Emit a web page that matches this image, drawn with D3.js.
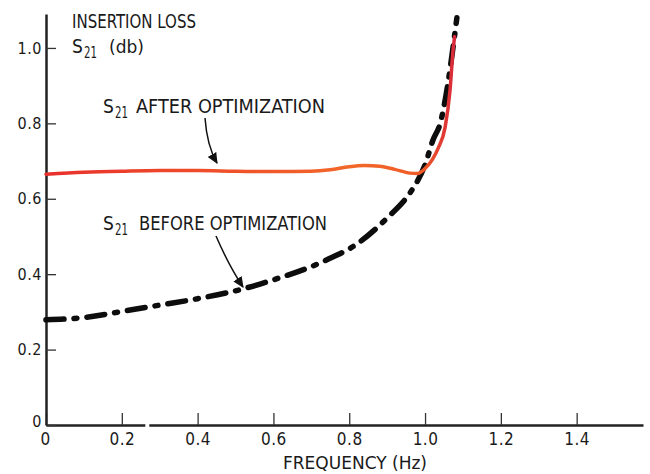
<!DOCTYPE html>
<html><head><meta charset="utf-8">
<script src="https://cdn.jsdelivr.net/npm/d3@7"></script>
<style>
html,body{margin:0;padding:0;background:#fff;}
svg{display:block;}
text{font-family:"DejaVu Sans Condensed","DejaVu Sans",sans-serif;fill:#1a1a1a;}
</style></head>
<body>
<svg id="chart" width="650" height="474"></svg>
<script>
// ---- data ----
const xTicks = [0, 0.2, 0.4, 0.6, 0.8, 1.0, 1.2, 1.4];
const xTickLabels = ["0", "0.2", "0.4", "0.6", "0.8", "1.0", "1.2", "1.4"];
const yTicks = [0, 0.2, 0.4, 0.6, 0.8, 1.0];
const yTickLabels = ["0", "0.2", "0.4", "0.6", "0.8", "1.0"];

const afterFreq = [0, 0.1, 0.2, 0.3, 0.4, 0.5, 0.6, 0.7, 0.75, 0.8, 0.84, 0.88, 0.92, 0.96, 0.98, 1.0, 1.02, 1.035, 1.053, 1.066, 1.074, 1.078];
const afterS21  = [0.665, 0.670, 0.673, 0.675, 0.675, 0.673, 0.672, 0.673, 0.677, 0.685, 0.688, 0.686, 0.678, 0.668, 0.667, 0.680, 0.705, 0.735, 0.79, 0.889, 0.995, 1.03];

const beforeFreq = [0, 0.1, 0.222, 0.3, 0.4, 0.52, 0.6, 0.741, 0.82, 0.9, 0.96, 0.979, 1.0, 1.021, 1.04, 1.061, 1.074, 1.084];
const beforeS21  = [0.279, 0.285, 0.305, 0.318, 0.335, 0.361, 0.385, 0.438, 0.48, 0.549, 0.615, 0.645, 0.69, 0.756, 0.80, 0.91, 1.003, 1.08];

// ---- scales ----
const svg = d3.select("#chart");
const x = d3.scaleLinear().domain([0, 1.575]).range([46, 643]);
const y = d3.scaleLinear().domain([0, 1.09]).range([425, 14]);

const defs = svg.append("defs");
const grad = defs.append("linearGradient").attr("id", "redgrad")
  .attr("gradientUnits", "userSpaceOnUse")
  .attr("x1", x(0)).attr("x2", x(1.08)).attr("y1", 0).attr("y2", 0);
[[0, "#e8302c"], [0.35, "#ee4a2a"], [0.75, "#f2682a"], [0.92, "#f05a28"], [1, "#d8283a"]]
  .forEach(([o, c]) => grad.append("stop").attr("offset", o).attr("stop-color", c));

defs.append("marker").attr("id", "arrow").attr("viewBox", "0 0 10 10")
  .attr("refX", 9).attr("refY", 5).attr("markerWidth", 11).attr("markerHeight", 11)
  .attr("markerUnits", "userSpaceOnUse").attr("orient", "auto")
  .append("path").attr("d", "M0,0.5 L10,5 L0,9.5 Z").attr("fill", "#111");

// ---- axes ----
const xAxis = d3.axisBottom(x).tickValues(xTicks)
  .tickFormat((d, i) => xTickLabels[i]).tickSizeInner(-12).tickSizeOuter(0).tickPadding(8);
const gx = svg.append("g").attr("transform", `translate(0,${y(0)})`).call(xAxis);
gx.select(".domain").attr("stroke", "#222").attr("stroke-width", 2.5);
gx.selectAll(".tick line").attr("stroke", "#333").attr("stroke-width", 1.3);
gx.selectAll(".tick text").attr("font-size", 17).attr("letter-spacing", 0.5).attr("fill", "#1a1a1a");
svg.append("rect").attr("x", x(0.262)).attr("y", y(0) - 2).attr("width", 4).attr("height", 4).attr("fill", "#fff");

const yAxis = d3.axisLeft(y).tickValues(yTicks)
  .tickFormat((d, i) => yTickLabels[i]).tickSizeInner(-10).tickSizeOuter(0).tickPadding(4);
const gy = svg.append("g").attr("transform", `translate(${x(0)},0)`).call(yAxis);
gy.select(".domain").attr("stroke", "#222").attr("stroke-width", 2.5);
gy.selectAll(".tick line").attr("stroke", "#333").attr("stroke-width", 1.3);
gy.selectAll(".tick text").attr("font-size", 16).attr("letter-spacing", 0.5).attr("fill", "#1a1a1a");
gy.selectAll(".tick").filter(d => d === 0).select("text").attr("dy", "0.1em");
gx.selectAll(".tick").filter(d => d === 0).select("text").attr("dx", "-0.05em");
svg.selectAll("g").attr("font-family", null);

// ---- curves ----
const line = d3.line().x(d => x(d[0])).y(d => y(d[1])).curve(d3.curveMonotoneX);

svg.append("path")
  .datum(beforeFreq.map((f, i) => [f, beforeS21[i]]))
  .attr("d", line).attr("fill", "none").attr("stroke", "#0d0d0d")
  .attr("stroke-width", 5.5).attr("stroke-linecap", "round")
  .attr("stroke-dasharray", "18,10,3,10");

svg.append("path")
  .datum(afterFreq.map((f, i) => [f, afterS21[i]]))
  .attr("d", line).attr("fill", "none").attr("stroke", "url(#redgrad)")
  .attr("stroke-width", 3.5).attr("stroke-linecap", "round");

// ---- annotations ----
svg.append("text").attr("x", 72).attr("y", 28).attr("font-size", 19)
  .attr("textLength", 124).attr("lengthAdjust", "spacingAndGlyphs").text("INSERTION LOSS");
function s21(xp, yp) {
  svg.append("text").attr("x", xp).attr("y", yp).attr("font-size", 19).text("S");
  svg.append("text").attr("x", xp + 12).attr("y", yp + 5).attr("font-size", 15)
    .attr("textLength", 13).attr("lengthAdjust", "spacingAndGlyphs").text("21");
}
s21(72, 53);
svg.append("text").attr("x", 109).attr("y", 53).attr("font-size", 17)
  .attr("textLength", 35).attr("lengthAdjust", "spacingAndGlyphs").text("(db)");

s21(103, 113);
svg.append("text").attr("x", 136).attr("y", 113).attr("font-size", 19)
  .attr("textLength", 189).attr("lengthAdjust", "spacingAndGlyphs").text("AFTER OPTIMIZATION");

s21(103, 230);
svg.append("text").attr("x", 139).attr("y", 230).attr("font-size", 19)
  .attr("textLength", 188).attr("lengthAdjust", "spacingAndGlyphs").text("BEFORE OPTIMIZATION");

svg.append("text").attr("x", 283).attr("y", 469).attr("font-size", 18)
  .attr("textLength", 144).attr("lengthAdjust", "spacingAndGlyphs").text("FREQUENCY (Hz)");

// arrows
svg.append("path").attr("d", "M205,118 Q207,146 217,163")
  .attr("fill", "none").attr("stroke", "#111").attr("stroke-width", 1.5).attr("marker-end", "url(#arrow)");
svg.append("path").attr("d", "M216,236 Q229,266 243,287")
  .attr("fill", "none").attr("stroke", "#111").attr("stroke-width", 1.5).attr("marker-end", "url(#arrow)");
</script>
</body></html>
